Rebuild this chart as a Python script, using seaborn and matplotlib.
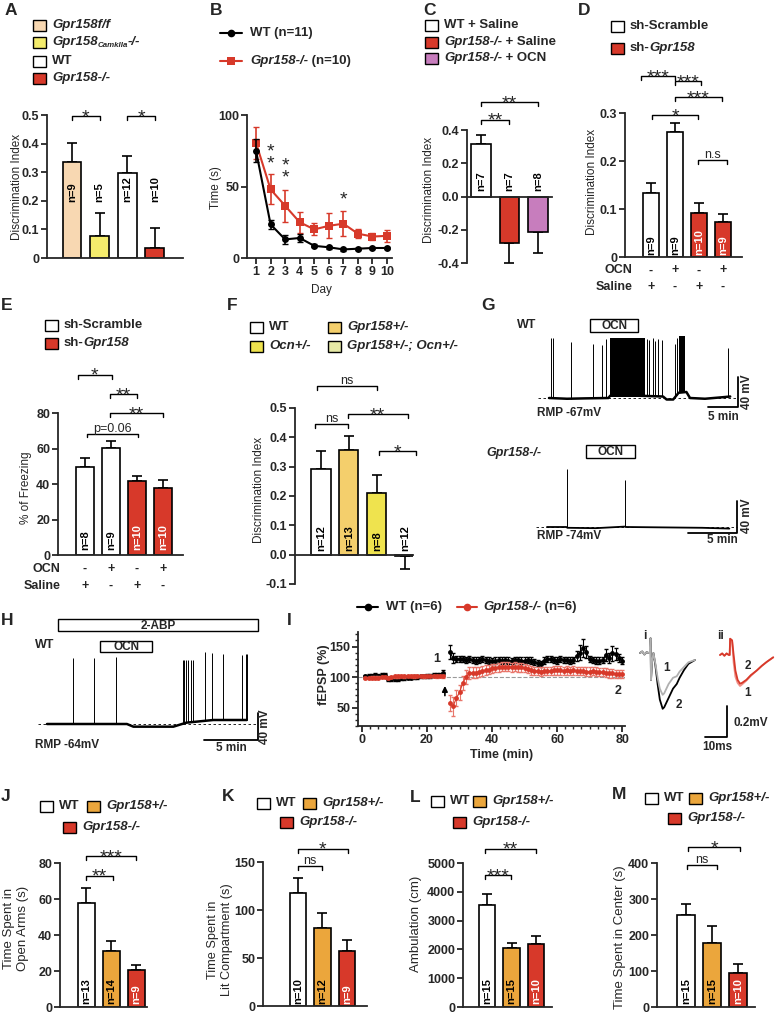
import numpy as np
import matplotlib
matplotlib.use("Agg")
import matplotlib.pyplot as plt
import matplotlib.transforms as mtransforms
from matplotlib.patches import Rectangle
from matplotlib.ticker import MultipleLocator
import seaborn as sns

sns.set_style("ticks")
plt.rcParams["font.family"] = ["Liberation Sans", "DejaVu Sans"]
plt.rcParams["axes.facecolor"] = "none"

W, H = 775, 1013
WHITE = "#ffffff"
RED = "#d7392a"
LIGHT_RED = "#e8766b"
GOLD = "#eba63c"
PEACH = "#f8d8b2"
YELLOW_A = "#f4ec6c"
PINK = "#c77dbd"
GOLD_F = "#f4cf6c"
YELLOW_F = "#efe34e"
PALE_F = "#e6e9a6"

# ---------------- data ----------------
A_groups = ["Gpr158f/f", "Gpr158 CamkIIa-/-", "WT", "Gpr158-/-"]
A_mean = [0.335, 0.078, 0.296, 0.034]
A_sem = [0.068, 0.079, 0.061, 0.07]
A_n = ["n=9", "n=5", "n=12", "n=10"]

B_day = [1, 2, 3, 4, 5, 6, 7, 8, 9, 10]
B_wt = [75, 23.5, 13, 14, 8.5, 7.5, 6, 6.5, 7, 7]
B_wt_sem = [8, 3, 3, 3, 1, 1, 0.8, 0.8, 0.8, 0.8]
B_ko = [80.5, 48, 36.5, 25, 20, 22.5, 24, 17, 15, 15.5]
B_ko_sem = [11, 10.5, 11, 7.5, 4.2, 8.8, 8.6, 3, 2.3, 4.2]

C_groups = ["WT + Saline", "Gpr158-/- + Saline", "Gpr158-/- + OCN"]
C_mean = [0.315, -0.28, -0.212]
C_sem = [0.055, 0.12, 0.13]
C_n = ["n=7", "n=7", "n=8"]

D_groups = ["sh-Scramble Saline", "sh-Scramble OCN", "sh-Gpr158 Saline", "sh-Gpr158 OCN"]
D_mean = [0.134, 0.26, 0.091, 0.073]
D_sem = [0.021, 0.02, 0.021, 0.016]
D_n = ["n=9", "n=9", "n=10", "n=9"]
D_ocn = ["-", "+", "-", "+"]
D_saline = ["+", "-", "+", "-"]

E_groups = ["sh-Scramble Saline", "sh-Scramble OCN", "sh-Gpr158 Saline", "sh-Gpr158 OCN"]
E_mean = [49.6, 60.5, 41.6, 37.8]
E_sem = [4.8, 3.8, 2.8, 4.7]
E_n = ["n=8", "n=9", "n=10", "n=10"]
E_ocn = ["-", "+", "-", "+"]
E_saline = ["+", "-", "+", "-"]

F_groups = ["WT", "Gpr158+/-", "Ocn+/-", "Gpr158+/-; Ocn+/-"]
F_mean = [0.292, 0.358, 0.21, -0.005]
F_sem = [0.061, 0.048, 0.06, 0.045]
F_n = ["n=12", "n=13", "n=8", "n=12"]

G_wt_base_t = [0, 3, 6, 9.9, 10.2, 15, 19.0, 19.6, 20.7, 21.6, 22.9, 23.5, 26, 28.9, 30.2]
G_wt_base_v = [-67, -68, -67.5, -67, -64, -64, -65, -69, -69, -60, -59, -67, -68, -66, -65]
G_wt_spike_t = [0.28, 0.72, 3.6, 7.3, 8.9, 9.5, 16.3, 16.7, 17.3, 17.7, 18.2, 18.9, 21.0, 21.3, 29.9]
G_wt_spike_peak = [13, 13, 7, 5, 3, 11, 12, 10, 13, 9, 12, 10, 5, 13, 0]
G_wt_burst_start = [10.1, 21.6]
G_wt_burst_end = [16.0, 22.7]
G_wt_burst_floor = [-64, -60]
G_wt_burst_top = [13, 15]

G_ko_base_t = [0, 2, 2.1, 5, 8, 8.2, 12, 16, 18.8]
G_ko_base_v = [-74, -74, -75, -75.5, -73.5, -74, -74.5, -75, -76]
G_ko_spike_t = [2.06, 8.0]
G_ko_spike_peak = [-1, -15]

H_base_t = [0, 7.4, 8.0, 11.7, 12.9, 15.4, 18.5]
H_base_v = [-64, -64, -68, -68, -62, -58, -58]
H_spike_t = [2.44, 4.35, 6.36, 12.56, 12.69, 12.84, 13.08, 13.3, 13.55, 14.6, 15.28, 16.33, 18.03, 18.43, 18.5]
H_spike_peak = [34.5, 34.5, 36, 32, 32, 32, 32, 32, 32, 44.5, 42, 41, 39.5, 41, 41]

I_time_base = [1, 2, 3, 4, 5, 6, 7, 8, 9, 10, 11, 12, 13, 14, 15, 16, 17, 18, 19, 20, 21, 22, 23, 24, 25]
I_wt_base = [101, 102, 102, 103, 102, 103, 104, 97, 96, 97, 97, 98, 98, 99, 99, 100, 100, 101, 101, 102, 102, 103, 103, 104, 107]
I_ko_base = [98, 98, 99, 99, 99, 100, 100, 99, 100, 101, 101, 102, 101, 102, 102, 101, 102, 102, 101, 102, 102, 102, 101, 102, 101]
I_wt_base_sem = [3, 3, 3, 3, 3, 3, 3, 3, 3, 3, 3, 3, 3, 3, 3, 3, 3, 3, 3, 3, 3, 3, 3, 3, 4]
I_ko_base_sem = [2, 2, 2, 2, 2, 2, 2, 2, 2, 2, 2, 2, 2, 2, 2, 2, 2, 2, 2, 2, 2, 2, 2, 2, 2]
I_time_post = [27, 28, 29, 30, 31, 32, 33, 34, 35, 36, 37, 38, 39, 40, 41, 42, 43, 44, 45, 46, 47, 48, 49, 50,
               51, 52, 53, 54, 55, 56, 57, 58, 59, 60, 61, 62, 63, 64, 65, 66, 67, 68, 69, 70, 71, 72, 73, 74,
               75, 76, 77, 78, 79, 80]
I_wt_post = [141, 131, 129, 130, 129, 128, 129, 128, 127, 128, 129, 128, 127, 126, 127, 128, 127, 128, 127, 126,
             128, 128, 127, 127, 128, 127, 124, 123, 122, 127, 130, 129, 128, 127, 129, 128, 128, 127, 128, 134,
             140, 147, 141, 129, 128, 127, 127, 128, 136, 131, 139, 138, 131, 127]
I_wt_post_sem = [11, 8, 5, 5, 5, 5, 5, 5, 5, 5, 5, 5, 5, 5, 5, 5, 5, 5, 5, 5, 5, 5, 5, 5, 5, 5, 5, 5, 5, 5, 5, 5,
                 5, 5, 5, 5, 5, 5, 5, 8, 12, 15, 10, 5, 5, 5, 5, 5, 10, 8, 12, 10, 7, 6]
I_ko_post = [57, 52, 65, 75, 90, 100, 106, 107, 107, 108, 110, 111, 112, 114, 115, 116, 117, 117, 117, 116, 117,
             116, 116, 115, 113, 111, 110, 110, 109, 110, 110, 110, 111, 111, 111, 110, 111, 110, 111, 110, 110,
             110, 109, 109, 110, 109, 108, 108, 107, 106, 106, 105, 105, 105]
I_ko_post_sem = [13, 16, 13, 12, 12, 11, 10, 9, 9, 8, 8, 8, 7, 7, 7, 7, 7, 7, 7, 7, 7, 7, 7, 7, 7, 7, 7, 7, 7, 7,
                 7, 7, 7, 7, 7, 7, 7, 7, 7, 7, 7, 7, 7, 7, 7, 7, 7, 7, 7, 7, 7, 7, 7, 7]

Ii_t = [0, 1, 2, 3, 4, 4.5, 4.8, 5.0, 5.5, 6.1, 7, 8, 9, 10.3, 11, 12, 13, 14, 15, 16.7, 18, 20, 22, 25]
Ii_v2 = [0, 0.01, -0.01, 0.005, 0, 0.0, 0.095, -0.175, -0.05, 0.0, -0.08, -0.2, -0.3, -0.36, -0.35, -0.32,
         -0.29, -0.26, -0.23, -0.2, -0.16, -0.11, -0.07, -0.045]
Ii_v1 = [0, 0.01, -0.01, 0.005, 0, 0.0, 0.095, -0.175, -0.05, 0.0, -0.07, -0.16, -0.23, -0.27, -0.26, -0.23,
         -0.2, -0.18, -0.16, -0.15, -0.12, -0.09, -0.06, -0.045]
Iii_t = [0, 1, 2, 3, 4, 4.4, 4.6, 5.5, 6.2, 7, 8, 9.1, 10, 12, 14, 16.7, 19, 21.2, 24.2]
Iii_v2 = [0, 0.01, -0.005, 0.01, 0, 0.0, 0.105, 0.095, 0.0, -0.1, -0.16, -0.185, -0.18, -0.16, -0.13, -0.1,
          -0.07, -0.045, -0.015]
Iii_v1 = [0, 0.01, -0.005, 0.01, 0, 0.0, 0.105, 0.09, -0.05, -0.14, -0.18, -0.2, -0.19, -0.165, -0.135, -0.1,
          -0.07, -0.045, -0.015]

JM_groups = ["WT", "Gpr158+/-", "Gpr158-/-"]
J_mean = [57.7, 31.1, 20.5]
J_sem = [8.4, 5.6, 2.8]
J_n = ["n=13", "n=14", "n=9"]
K_mean = [118, 81.7, 57]
K_sem = [15.3, 15.2, 12.2]
K_n = ["n=10", "n=12", "n=9"]
L_mean = [3530, 2050, 2200]
L_sem = [405, 175, 255]
L_n = ["n=15", "n=15", "n=10"]
M_mean = [255, 179, 95.5]
M_sem = [32, 45, 23]
M_n = ["n=15", "n=15", "n=10"]

# ---------------- helpers ----------------
fig = plt.figure(figsize=(W / 100, H / 100), dpi=100)
renderer = fig.canvas.get_renderer()

STAR_SIZE = 14


def px_axes(x0, y0, x1, y1):
    return fig.add_axes([x0 / W, 1 - y1 / H, (x1 - x0) / W, (y1 - y0) / H])


def style_axes(ax):
    sns.despine(ax=ax)
    ax.spines[["left", "bottom"]].set_linewidth(1.3)
    ax.tick_params(width=1.3, length=4, pad=1.5)


def bar_panel(rect, cats, means, sems, colors, xlim, ylim, yticks, ytl, ns, n_y, zero_axis=False):
    ax = px_axes(*rect)
    sns.barplot(x=cats, y=means, hue=cats, palette=colors, legend=False, width=0.68, saturation=1,
                edgecolor="black", linewidth=1.2, errorbar=None, ax=ax)
    xs = list(range(len(means)))
    lo = [s if m < 0 else 0 for m, s in zip(means, sems)]
    hi = [0 if m < 0 else s for m, s in zip(means, sems)]
    ax.errorbar(xs, means, yerr=[lo, hi], fmt="none", ecolor="black", elinewidth=1.2,
                capsize=3.5, capthick=1.2, zorder=0)
    for x, n, m, c in zip(xs, ns, means, colors):
        inside = c == RED and m > n_y
        ax.text(x, n_y, n, rotation=90, ha="center", va="bottom", fontsize=8,
                fontweight="bold", color="white" if inside else "black")
    ax.set_xlim(*xlim)
    ax.set_ylim(*ylim)
    ax.set_xticks([])
    ax.set_xlabel("")
    ax.set_ylabel("")
    ax.set_yticks(yticks, labels=ytl, fontsize=9, fontweight="bold")
    style_axes(ax)
    if zero_axis:
        ax.spines["bottom"].set_position(("data", 0))
    return ax


def bracket(ax, x1, x2, y, h, txt):
    ax.plot([x1, x1, x2, x2], [y - h, y, y, y - h], color="black", lw=1.0, clip_on=False)
    star = set(txt) == {"*"}
    ax.annotate(txt, xy=((x1 + x2) / 2, y), xytext=(0, -4.5 if star else 1.5),
                textcoords="offset points", ha="center", va="baseline",
                fontsize=STAR_SIZE if star else 9, annotation_clip=False)


def sign_rows(ax, ocn, saline, label_x, y_ocn, y_sal):
    tr = mtransforms.blended_transform_factory(ax.transData, ax.transAxes)
    ax.text(label_x, y_ocn, "OCN", transform=tr, ha="right", va="center", fontsize=9, fontweight="bold")
    ax.text(label_x, y_sal, "Saline", transform=tr, ha="right", va="center", fontsize=9, fontweight="bold")
    for i, (o, s) in enumerate(zip(ocn, saline)):
        ax.text(i, y_ocn, o, transform=tr, ha="center", va="center", fontsize=9, fontweight="bold")
        ax.text(i, y_sal, s, transform=tr, ha="center", va="center", fontsize=9, fontweight="bold")


def trace_ax(rect, px_t0, ppt, py_v0, v0, ppv):
    x0, y0, x1, y1 = rect
    ax = px_axes(*rect)
    ax.set_xlim((x0 - px_t0) / ppt, (x1 - px_t0) / ppt)
    ax.set_ylim(v0 - (y1 - py_v0) / ppv, v0 + (py_v0 - y0) / ppv)
    ax.axis("off")
    return ax


def draw_trace(ax, bt, bv, st, sp, lw):
    ax.plot(bt, bv, color="black", lw=lw, solid_joinstyle="round")
    ax.vlines(st, np.interp(st, bt, bv), sp, color="black", lw=0.7)


# ---------------- A ----------------
A_colors = [PEACH, YELLOW_A, WHITE, RED]
axA = bar_panel((47, 115, 183, 258), A_groups, A_mean, A_sem, A_colors, (-0.906, 4.02), (0, 0.5),
                [0, 0.1, 0.2, 0.3, 0.4, 0.5], ["0", "0.1", "0.2", "0.3", "0.4", "0.5"], A_n, 0.197)
bracket(axA, 0, 1, 0.495, 0.014, "*")
bracket(axA, 2, 3, 0.495, 0.014, "*")

# ---------------- B ----------------
axB = px_axes(247, 115, 392, 258)
axB.errorbar(B_day, B_ko, yerr=B_ko_sem, fmt="none", ecolor=RED, elinewidth=1.2, capsize=2.5)
sns.lineplot(x=B_day, y=B_ko, color=RED, marker="s", markersize=5.5, markeredgewidth=0, lw=1.5, ax=axB)
axB.errorbar(B_day, B_wt, yerr=B_wt_sem, fmt="none", ecolor="black", elinewidth=1.2, capsize=2.5)
sns.lineplot(x=B_day, y=B_wt, color="black", marker="o", markersize=5, markeredgewidth=0, lw=1.5, ax=axB)
axB.set_xlim(0.38, 10.34)
axB.set_ylim(0, 100)
axB.set_xticks(B_day, labels=[str(d) for d in B_day], fontsize=9, fontweight="bold")
axB.set_yticks([0, 50, 100], labels=["0", "50", "100"], fontsize=9, fontweight="bold")
axB.set_xlabel("")
axB.set_ylabel("")
style_axes(axB)
for d, yb, s in [(2, 62.9, "*\n*"), (3, 52.9, "*\n*"), (7, 37.3, "*")]:
    axB.text(d, yb, s, ha="center", va="baseline", fontsize=STAR_SIZE, linespacing=0.6)

# ---------------- C ----------------
C_colors = [WHITE, RED, PINK]
axC = bar_panel((467, 130, 552, 263), C_groups, C_mean, C_sem, C_colors, (-0.49, 2.49), (-0.4, 0.4),
                [-0.4, -0.2, 0.0, 0.2, 0.4], ["-0.4", "-0.2", "0.0", "0.2", "0.4"], C_n, 0.035,
                zero_axis=True)
bracket(axC, 0, 2, 0.568, 0.024, "**")
bracket(axC, 0, 1, 0.462, 0.024, "**")

# ---------------- D ----------------
D_colors = [WHITE, WHITE, RED, RED]
axD = bar_panel((625, 113, 742, 257), D_groups, D_mean, D_sem, D_colors, (-1.08, 3.79), (0, 0.3),
                [0, 0.1, 0.2, 0.3], ["0", "0.1", "0.2", "0.3"], D_n, 0.004)
bracket(axD, -0.42, 1.0, 0.377, 0.0084, "***")
bracket(axD, 1.0, 2.1, 0.366, 0.0084, "***")
bracket(axD, 1.0, 2.96, 0.333, 0.0084, "***")
bracket(axD, 0.04, 1.96, 0.296, 0.0084, "*")
bracket(axD, 1.96, 3.17, 0.202, 0.0084, "n.s")
sign_rows(axD, D_ocn, D_saline, -0.76, -0.093, -0.209)

# ---------------- E ----------------
E_colors = [WHITE, WHITE, RED, RED]
axE = bar_panel((58, 413, 183, 555), E_groups, E_mean, E_sem, E_colors, (-1.04, 3.77), (0, 80),
                [0, 20, 40, 60, 80], ["0", "20", "40", "60", "80"], E_n, 2.8)
bracket(axE, -0.28, 1.03, 101.6, 2.2, "*")
bracket(axE, 0.96, 1.99, 90.5, 2.2, "**")
bracket(axE, 0.96, 2.99, 80, 2.2, "**")
bracket(axE, 0.09, 2.05, 68.4, 2.2, "p=0.06")
sign_rows(axE, E_ocn, E_saline, -0.96, -0.098, -0.216)

# ---------------- F ----------------
F_colors = [WHITE, GOLD_F, YELLOW_F, PALE_F]
axF = bar_panel((295, 408, 413, 584), F_groups, F_mean, F_sem, F_colors, (-0.93, 3.29), (-0.1, 0.5),
                [-0.1, 0.0, 0.1, 0.2, 0.3, 0.4, 0.5], ["-0.1", "0.0", "0.1", "0.2", "0.3", "0.4", "0.5"],
                F_n, 0.011, zero_axis=True)
bracket(axF, -0.15, 1.99, 0.574, 0.0137, "ns")
bracket(axF, 0.96, 3.1, 0.48, 0.0137, "**")
bracket(axF, -0.21, 0.95, 0.446, 0.0137, "ns")
bracket(axF, 2.07, 3.38, 0.352, 0.0137, "*")

# ---------------- G ----------------
axG1 = trace_ax((530, 330, 770, 425), 549, 6.0, 398, -67, 0.75)
for s, e, fl, tp in zip(G_wt_burst_start, G_wt_burst_end, G_wt_burst_floor, G_wt_burst_top):
    axG1.fill_between([s, e], [fl, fl], [tp, tp], color="black", lw=0)
draw_trace(axG1, G_wt_base_t, G_wt_base_v, G_wt_spike_t, G_wt_spike_peak, 1.8)
axG1.plot([-1.8, 31.3], [-67, -67], color="black", lw=0.6, ls=(0, (3, 3)))
axG1.plot([26.55, 31.55, 31.55], [-78.6, -78.6, -38.6], color="black", lw=1.3, clip_on=False)

axG2 = trace_ax((530, 455, 770, 545), 547, 9.7, 527, -74, 0.79)
draw_trace(axG2, G_ko_base_t, G_ko_base_v, G_ko_spike_t, G_ko_spike_peak, 1.3)
axG2.plot([-1.1, 19.6], [-74, -74], color="black", lw=0.6, ls=(0, (3, 3)))
axG2.plot([14.57, 19.56, 19.56], [-81.2, -81.2, -41.2], color="black", lw=1.3, clip_on=False)

# ---------------- H ----------------
axH = trace_ax((28, 640, 275, 760), 47, 10.8, 724, -64, 0.667)
draw_trace(axH, H_base_t, H_base_v, H_spike_t, H_spike_peak, 1.8)
axH.plot([-0.83, 19.5], [-64, -64], color="black", lw=0.6, ls=(0, (3, 3)))
axH.plot([14.54, 19.56, 19.56], [-88, -88, -48], color="black", lw=1.3, clip_on=False)

# ---------------- I ----------------
axI = px_axes(358, 632, 625, 726)
axI.axhline(100, ls="--", color="#9a9a9a", lw=0.8, zorder=0)
for tt, vals, errs, col, ecol in [
    (I_time_base, I_wt_base, I_wt_base_sem, "black", "black"),
    (I_time_post, I_wt_post, I_wt_post_sem, "black", "black"),
    (I_time_base, I_ko_base, I_ko_base_sem, RED, LIGHT_RED),
    (I_time_post, I_ko_post, I_ko_post_sem, RED, LIGHT_RED),
]:
    axI.errorbar(tt, vals, yerr=errs, fmt="none", ecolor=ecol, elinewidth=0.8, capsize=1.5)
    sns.lineplot(x=tt, y=vals, color=col, marker="o", markersize=3.5, markeredgewidth=0, lw=0.8, ax=axI)
axI.set_xlim(-1.23, 80.9)
axI.set_ylim(19.7, 173.8)
axI.set_xticks([0, 20, 40, 60, 80], labels=["0", "20", "40", "60", "80"], fontsize=9, fontweight="bold")
axI.set_yticks([50, 100, 150], labels=["50", "100", "150"], fontsize=9, fontweight="bold")
axI.xaxis.set_minor_locator(MultipleLocator(2.5))
axI.yaxis.set_minor_locator(MultipleLocator(10))
axI.set_xlabel("")
axI.set_ylabel("")
style_axes(axI)
axI.tick_params(which="minor", width=1.0, length=2.5)
axI.annotate("", xy=(25.5, 90), xytext=(25.5, 65),
             arrowprops=dict(arrowstyle="-|>", color="black", lw=1.2, mutation_scale=8))
axI.text(23, 129.5, "1", ha="center", va="center", fontsize=9, fontweight="bold")
axI.text(78.8, 77, "2", ha="center", va="center", fontsize=9, fontweight="bold")

axIi = trace_ax((636, 626, 700, 712), 640, 2.2, 653, 0, 155)
axIi.plot(Ii_t, Ii_v2, color="black", lw=1.3)
axIi.plot(Ii_t, Ii_v1, color="#b0b0b0", lw=1.3)
axIii = trace_ax((700, 626, 775, 750), 720, 2.2, 655, 0, 155)
axIii.plot(Iii_t, Iii_v1, color="#f09088", lw=1.3)
axIii.plot(Iii_t, Iii_v2, color=RED, lw=1.3)
axIii.plot([-6.8, 3.2, 3.2], [-0.529, -0.529, -0.329], color="black", lw=1.3, clip_on=False)

# ---------------- J-M ----------------
JM_colors = [WHITE, GOLD, RED]
axJ = bar_panel((60, 863, 147, 1007), JM_groups, J_mean, J_sem, JM_colors, (-1.04, 2.44), (0, 80),
                [0, 20, 40, 60, 80], ["0", "20", "40", "60", "80"], J_n, 1.9)
bracket(axJ, 0, 2, 83.8, 2.2, "***")
bracket(axJ, 0, 1.09, 73, 2.2, "**")
axK = bar_panel((263, 862, 367, 1006), JM_groups, K_mean, K_sem, JM_colors, (-1.43, 2.82), (0, 150),
                [0, 50, 100, 150], ["0", "50", "100", "150"], K_n, 2.5)
bracket(axK, -0.01, 2.05, 164, 4.2, "*")
bracket(axK, -0.01, 1.0, 145.8, 4.2, "ns")
axL = bar_panel((463, 863, 552, 1007), JM_groups, L_mean, L_sem, JM_colors, (-0.98, 2.65), (0, 5000),
                [0, 1000, 2000, 3000, 4000, 5000], ["0", "1000", "2000", "3000", "4000", "5000"], L_n, 118)
bracket(axL, -0.08, 1.99, 5500, 139, "**")
bracket(axL, -0.08, 0.98, 4573, 139, "***")
axM = bar_panel((657, 863, 755, 1007), JM_groups, M_mean, M_sem, JM_colors, (-1.12, 2.65), (0, 400),
                [0, 100, 200, 300, 400], ["0", "100", "200", "300", "400"], M_n, 9.4)
bracket(axM, 0.08, 2.08, 444, 11, "*")
bracket(axM, 0.03, 1.18, 395.6, 11, "ns")

# ---------------- overlay: letters, legends, labels ----------------
ov = fig.add_axes([0, 0, 1, 1])
ov.set_xlim(0, W)
ov.set_ylim(H, 0)
ov.axis("off")
ov.set_zorder(10)


def rich(x, y, parts, size=9.5):
    for p in parts:
        scale = p[2] if len(p) > 2 else 1.0
        dy = p[3] if len(p) > 3 else 0
        t = ov.text(x, y + dy, p[0], fontsize=size * scale, fontweight="bold", fontstyle=p[1],
                    ha="left", va="center")
        x += t.get_window_extent(renderer=renderer).width


def legend_box(x, y, color, parts):
    ov.add_patch(Rectangle((x, y - 5.5), 13, 11, facecolor=color, edgecolor="black", lw=1))
    rich(x + 19, y, parts)


def legend_line(x0, x1, y, color, marker, parts, tx):
    ov.plot([x0, x1], [y, y], color=color, lw=1.5)
    ov.plot([(x0 + x1) / 2], [y], marker=marker, ms=5.5, color=color, mew=0)
    rich(tx, y, parts)


for letter, x, y in [("A", 5, 10), ("B", 210, 10), ("C", 423, 10), ("D", 578, 10), ("E", 1, 305),
                     ("F", 227, 305), ("G", 481, 305), ("H", 1, 620), ("I", 287, 620), ("J", 1, 796),
                     ("K", 222, 796), ("L", 410, 797), ("M", 612, 794)]:
    ov.text(x, y, letter, fontsize=12.5, fontweight="bold", ha="left", va="center")

IT, NO = "italic", "normal"
legend_box(33, 25, PEACH, [("Gpr158f/f", IT)])
legend_box(33, 42, YELLOW_A, [("Gpr158", IT), ("CamkIIa", IT, 0.6, 3), ("-/-", IT)])
legend_box(33, 61, WHITE, [("WT", NO)])
legend_box(33, 78, RED, [("Gpr158-/-", IT)])

legend_line(220, 242, 33, "black", "o", [("WT (n=11)", NO)], 250)
legend_line(220, 242, 61, RED, "s", [("Gpr158-/-", IT), (" (n=10)", NO)], 250)

legend_box(425, 25, WHITE, [("WT + Saline", NO)])
legend_box(425, 42, RED, [("Gpr158-/-", IT), (" + Saline", NO)])
legend_box(425, 58, PINK, [("Gpr158-/-", IT), (" + OCN", NO)])

legend_box(611, 26, WHITE, [("sh-Scramble", NO)])
legend_box(611, 48, RED, [("sh-", NO), ("Gpr158", IT)])

legend_box(45, 325, WHITE, [("sh-Scramble", NO)])
legend_box(45, 343, RED, [("sh-", NO), ("Gpr158", IT)])

legend_box(250, 327, WHITE, [("WT", NO)])
legend_box(328, 327, GOLD_F, [("Gpr158+/-", IT)])
legend_box(250, 346, YELLOW_F, [("Ocn+/-", IT)])
legend_box(328, 346, PALE_F, [("Gpr158+/-; Ocn+/-", IT)])

legend_line(357, 378, 607, "black", "o", [("WT (n=6)", NO)], 386)
legend_line(457, 477, 607, RED, "o", [("Gpr158-/-", IT), (" (n=6)", NO)], 483)

for px, py_, tx, ty_, rx, ry in [(40, 806, 87, 806, 63, 827), (257, 803, 303, 803, 280, 822),
                                 (431, 801, 473, 801, 453, 822), (645, 798, 689, 798, 668, 818)]:
    legend_box(px, py_, WHITE, [("WT", NO)])
    legend_box(tx, ty_, GOLD, [("Gpr158+/-", IT)])
    legend_box(rx, ry, RED, [("Gpr158-/-", IT)])

# axis labels
for txt, x, y, size, wt in [("Discrimination Index", 17, 187, 8.5, "normal"),
                            ("Time (s)", 216, 188, 8.5, "normal"),
                            ("Discrimination Index", 429, 190, 8.5, "normal"),
                            ("Discrimination Index", 592, 182, 8.5, "normal"),
                            ("% of Freezing", 26, 488, 8.5, "normal"),
                            ("Discrimination Index", 259, 490, 8.5, "normal"),
                            ("fEPSP (%)", 324, 675, 9, "bold"),
                            ("Time Spent in\nOpen Arms (s)", 16, 928, 9.5, "normal"),
                            ("Time Spent in\nLit Compartment (s)", 220, 940, 9.2, "normal"),
                            ("Ambulation (cm)", 416, 924, 9.5, "normal"),
                            ("Time Spent in Center (s)", 620, 937, 9.5, "normal")]:
    ov.text(x, y, txt, rotation=90, ha="center", va="center", fontsize=size, fontweight=wt,
            linespacing=1.2)
ov.text(321, 290, "Day", ha="center", va="center", fontsize=8.5)
ov.text(502, 755, "Time (min)", ha="center", va="center", fontsize=9, fontweight="bold")


# G / H annotations
def box(x0, y0, x1, y1, txt):
    ov.add_patch(Rectangle((x0, y0), x1 - x0, y1 - y0, facecolor="white", edgecolor="black", lw=1))
    ov.text((x0 + x1) / 2, (y0 + y1) / 2 + 0.5, txt, ha="center", va="center", fontsize=8.5,
            fontweight="bold")


ov.text(517, 325, "WT", ha="left", va="center", fontsize=9, fontweight="bold")
box(590, 319, 638, 332, "OCN")
ov.text(537, 413, "RMP -67mV", ha="left", va="center", fontsize=8.5, fontweight="bold")
ov.text(747, 392, "40 mV", rotation=90, ha="center", va="center", fontsize=8.5, fontweight="bold")
ov.text(723, 417, "5 min", ha="center", va="center", fontsize=8.5, fontweight="bold")
ov.text(541, 453, "Gpr158-/-", ha="right", va="center", fontsize=9, fontweight="bold", fontstyle="italic")
box(586, 445, 635, 458, "OCN")
ov.text(537, 536, "RMP -74mV", ha="left", va="center", fontsize=8.5, fontweight="bold")
ov.text(747, 516, "40 mV", rotation=90, ha="center", va="center", fontsize=8.5, fontweight="bold")
ov.text(722, 540, "5 min", ha="center", va="center", fontsize=8.5, fontweight="bold")

box(58, 619, 258, 631, "2-ABP")
box(100, 641, 152, 652, "OCN")
ov.text(35, 645, "WT", ha="left", va="center", fontsize=9, fontweight="bold")
ov.text(35, 745, "RMP -64mV", ha="left", va="center", fontsize=8.5, fontweight="bold")
ov.text(265, 727, "40 mV", rotation=90, ha="center", va="center", fontsize=8.5, fontweight="bold")
ov.text(231, 748, "5 min", ha="center", va="center", fontsize=8.5, fontweight="bold")

for txt, x, y in [("i", 645, 636), ("ii", 720, 636), ("1", 667, 668), ("2", 679, 705),
                  ("2", 748, 666), ("1", 748, 693)]:
    ov.text(x, y, txt, ha="center", va="center", fontsize=8.5, fontweight="bold")
ov.text(733, 723, "0.2mV", ha="left", va="center", fontsize=8.5, fontweight="bold")
ov.text(717, 747, "10ms", ha="center", va="center", fontsize=8.5, fontweight="bold")

fig.savefig("out.png", dpi=100)
